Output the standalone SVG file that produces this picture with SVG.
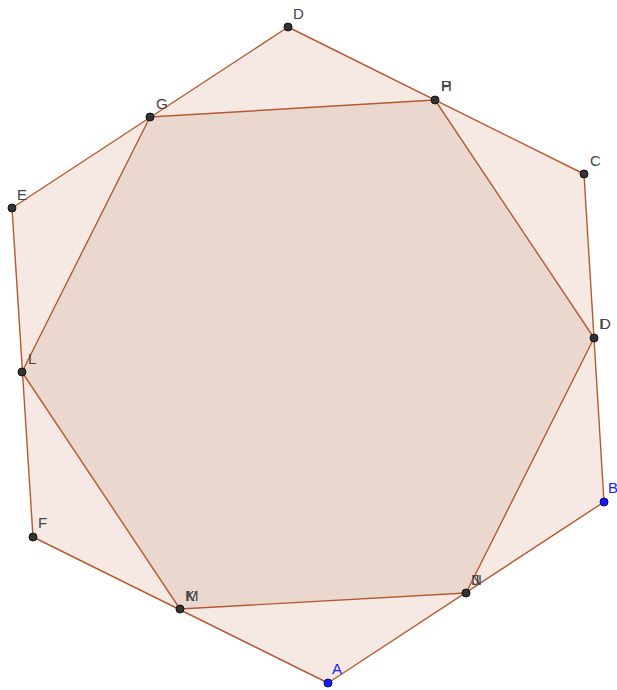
<svg xmlns="http://www.w3.org/2000/svg" width="617" height="690" viewBox="0 0 617 690">
<style>
.poly{stroke:#b45a30;stroke-width:1.4;stroke-linejoin:round}
.pt{fill:#333;stroke:#111;stroke-width:1}
.ptb{fill:#1a1aff;stroke:#0a0a66;stroke-width:1}
.lb{font-family:"Liberation Sans",Arial,sans-serif;font-size:15px;fill:#444}
.lbb{font-family:"Liberation Sans",Arial,sans-serif;font-size:15px;fill:#1a1aff}
</style>
<rect width="617" height="690" fill="#ffffff"/>
<g id="connectors">
<polygon id="outer" class="poly" fill="#f6e8e3" points="288,27 584,174 604,502 328,683 33,537 12,208"/>
<polygon id="inner" class="poly" fill="#ead8cf" points="150,117 435,100 594,338 466,593 180,609 22,372"/>
</g>
<g id="D"><circle class="pt" cx="288" cy="27" r="4"/><text class="lb" x="293" y="19">D</text></g>
<g id="H"><circle class="pt" cx="435" cy="100" r="4"/><text class="lb" x="441" y="91">H</text><text class="lb" x="441" y="91">P</text></g>
<g id="C"><circle class="pt" cx="584" cy="174" r="4"/><text class="lb" x="590" y="166">C</text></g>
<g id="O"><circle class="pt" cx="594" cy="338" r="4"/><text class="lb" x="599" y="329">I</text><text class="lb" x="600" y="329">D</text></g>
<g id="B"><circle class="ptb" cx="604" cy="502" r="4"/><text class="lbb" x="608" y="493">B</text></g>
<g id="N"><circle class="pt" cx="466" cy="593" r="4"/><text class="lb" x="471" y="585">N</text><text class="lb" x="472" y="585">J</text></g>
<g id="A"><circle class="ptb" cx="328" cy="683" r="4"/><text class="lbb" x="332" y="674">A</text></g>
<g id="M"><circle class="pt" cx="180" cy="609" r="4"/><text class="lb" x="185" y="601">K</text><text class="lb" x="186" y="601">M</text></g>
<g id="F"><circle class="pt" cx="33" cy="537" r="4"/><text class="lb" x="38" y="528">F</text></g>
<g id="L"><circle class="pt" cx="22" cy="372" r="4"/><text class="lb" x="28" y="364">L</text></g>
<g id="E"><circle class="pt" cx="12" cy="208" r="4"/><text class="lb" x="17" y="200">E</text></g>
<g id="G"><circle class="pt" cx="150" cy="117" r="4"/><text class="lb" x="156" y="109">G</text></g>
</svg>
